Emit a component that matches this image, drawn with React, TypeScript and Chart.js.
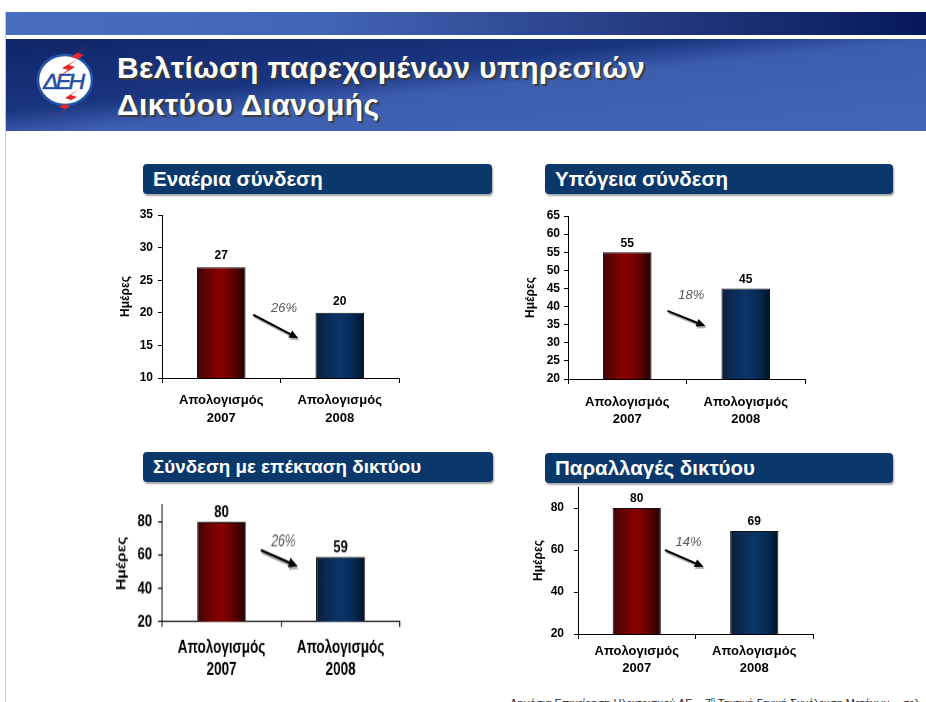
import React, { useEffect, useRef } from 'react';
import { Chart, registerables } from 'chart.js';

Chart.register(...registerables);

// ---------- data ----------
const categories = [['Απολογισμός', '2007'], ['Απολογισμός', '2008']];
const axisTitle = 'Ημέρες';

const overheadValues = [27, 20];
const undergroundValues = [55, 45];
const extensionValues = [80, 59];
const modificationValues = [80, 69];

const overheadTicks = [10, 15, 20, 25, 30, 35];
const undergroundTicks = [20, 25, 30, 35, 40, 45, 50, 55, 60, 65];
const extensionTicks = [20, 40, 60, 80];
const modificationTicks = [20, 40, 60, 80];

const overheadChange = '26%';
const undergroundChange = '18%';
const extensionChange = '26%';
const modificationChange = '14%';

const panelTitles = ['Εναέρια σύνδεση', 'Υπόγεια σύνδεση', 'Σύνδεση με επέκταση δικτύου', 'Παραλλαγές δικτύου'];

// ---------- styles ----------
const SANS = '"Liberation Sans", Arial, Helvetica, sans-serif';

const redStops: [number, string][] = [
  [0, '#3a0707'], [0.15, '#5c0303'], [0.45, '#880000'], [0.62, '#780000'], [0.85, '#480000'], [1, '#1c0000'],
];
const blueStops: [number, string][] = [
  [0, '#0c1c33'], [0.2, '#0a2a52'], [0.5, '#0a3567'], [0.75, '#072b56'], [1, '#011227'],
];

type Spec = {
  values: number[];
  ticks: number[];
  min: number;
  max: number;
  change: string;
  arrowFrom: [number, number];
  arrowTo: [number, number];
  labelAt: [number, number];
  box: { left: number; top: number; width: number; height: number };
  stretch: number;
  padding: { left: number; top: number; right: number; bottom: number };
  yWidth: number;
  xHeight: number;
  tickSize: number;
  tickPad: number;
  catSize: number;
  catLH: number;
  catPad: number;
  xTickLen: number;
  titleSize: number;
  titlePad: number;
  valueSize: number;
  valueGap: number;
  pctSize: number;
};

const specs: Spec[] = [
  {
    values: overheadValues, ticks: overheadTicks, min: 10, max: 35, change: overheadChange,
    arrowFrom: [0.27, 19.7], arrowTo: [0.65, 16.1], labelAt: [0.53, 20.7],
    box: { left: 100, top: 195, width: 310, height: 245 }, stretch: 1,
    padding: { left: 0, top: 20, right: 11, bottom: 0 },
    yWidth: 62, xHeight: 62,
    tickSize: 12, tickPad: 5, catSize: 13, catLH: 18, catPad: 8, xTickLen: 5,
    titleSize: 12, titlePad: 18, valueSize: 12, valueGap: 11, pctSize: 13,
  },
  {
    values: undergroundValues, ticks: undergroundTicks, min: 20, max: 65, change: undergroundChange,
    arrowFrom: [0.34, 38.8], arrowTo: [0.66, 34.6], labelAt: [0.54, 43.2],
    box: { left: 505, top: 196, width: 310, height: 244 }, stretch: 1,
    padding: { left: 0, top: 20, right: 10, bottom: 0 },
    yWidth: 63, xHeight: 61,
    tickSize: 12, tickPad: 4, catSize: 13, catLH: 17, catPad: 9.5, xTickLen: 5,
    titleSize: 12, titlePad: 18.8, valueSize: 12, valueGap: 9, pctSize: 13,
  },
  {
    values: extensionValues, ticks: extensionTicks, min: 20, max: 90, change: extensionChange,
    arrowFrom: [0.33, 63], arrowTo: [0.64, 53.3], labelAt: [0.52, 67.9],
    box: { left: 100, top: 478, width: 310, height: 163 }, stretch: 1.3,
    padding: { left: 0, top: 20.8, right: 10, bottom: 0 },
    yWidth: 62, xHeight: 53,
    tickSize: 13, tickPad: 6, catSize: 13.5, catLH: 17, catPad: 7.5, xTickLen: 4,
    titleSize: 12, titlePad: 14.8, valueSize: 13, valueGap: 7, pctSize: 12,
  },
  {
    values: modificationValues, ticks: modificationTicks, min: 20, max: 90, change: modificationChange,
    arrowFrom: [0.24, 60], arrowTo: [0.57, 52], labelAt: [0.44, 63.8],
    box: { left: 505, top: 467, width: 320, height: 223 }, stretch: 1,
    padding: { left: 0, top: 20, right: 12, bottom: 0 },
    yWidth: 73, xHeight: 56,
    tickSize: 12, tickPad: 10, catSize: 13, catLH: 17, catPad: 3.5, xTickLen: 5,
    titleSize: 12, titlePad: 26.8, valueSize: 12, valueGap: 9, pctSize: 13,
  },
];

function BarPanel({ spec }: { spec: Spec }) {
  const ref = useRef<HTMLCanvasElement>(null);

  useEffect(() => {
    if (!ref.current) return;
    const barPct = 0.41;

    const gradFor = (c: any) => {
      const chart = c.chart;
      const i = c.dataIndex;
      const stops = i === 1 ? blueStops : redStops;
      const xs = chart.scales && chart.scales.x;
      if (typeof i !== 'number' || !xs || !chart.chartArea) return stops[2][1];
      const center = xs.getPixelForValue(i);
      const w = (xs.width / categories.length) * barPct;
      const g = chart.ctx.createLinearGradient(center - w / 2, 0, center + w / 2, 0);
      stops.forEach(([o, col]) => g.addColorStop(o, col));
      return g;
    };

    const overlay = {
      id: 'overlay',
      afterDatasetsDraw(chart: any) {
        const ctx = chart.ctx;
        const xs = chart.scales.x;
        const ys = chart.scales.y;
        const meta = chart.getDatasetMeta(0);
        ctx.save();
        ctx.font = `bold ${spec.valueSize}px ${SANS}`;
        ctx.fillStyle = '#000';
        ctx.textAlign = 'center';
        ctx.textBaseline = 'middle';
        meta.data.forEach((el: any, i: number) => {
          ctx.fillText(String(spec.values[i]), el.x, el.y - spec.valueGap);
        });
        const x1 = xs.getPixelForValue(spec.arrowFrom[0]);
        const y1 = ys.getPixelForValue(spec.arrowFrom[1]);
        const x2 = xs.getPixelForValue(spec.arrowTo[0]);
        const y2 = ys.getPixelForValue(spec.arrowTo[1]);
        const ang = Math.atan2(y2 - y1, x2 - x1);
        const head = 9;
        const drawArrow = (dx: number, dy: number, color: string) => {
          ctx.strokeStyle = color;
          ctx.fillStyle = color;
          ctx.lineWidth = 2;
          ctx.beginPath();
          ctx.moveTo(x1 + dx, y1 + dy);
          ctx.lineTo(x2 + dx - Math.cos(ang) * head * 0.7, y2 + dy - Math.sin(ang) * head * 0.7);
          ctx.stroke();
          ctx.beginPath();
          ctx.moveTo(x2 + dx, y2 + dy);
          ctx.lineTo(x2 + dx - Math.cos(ang) * head + Math.sin(ang) * 4, y2 + dy - Math.sin(ang) * head - Math.cos(ang) * 4);
          ctx.lineTo(x2 + dx - Math.cos(ang) * head - Math.sin(ang) * 4, y2 + dy - Math.sin(ang) * head + Math.cos(ang) * 4);
          ctx.closePath();
          ctx.fill();
        };
        drawArrow(1, 2, 'rgba(120,120,120,0.6)');
        drawArrow(0, 0, '#000');
        ctx.font = `italic ${spec.pctSize}px ${SANS}`;
        ctx.fillStyle = '#5a5a5a';
        ctx.fillText(spec.change, xs.getPixelForValue(spec.labelAt[0]), ys.getPixelForValue(spec.labelAt[1]));
        ctx.restore();
      },
    };

    const chart = new Chart(ref.current, {
      type: 'bar',
      data: {
        labels: categories,
        datasets: [
          {
            data: spec.values,
            backgroundColor: gradFor as any,
            borderColor: '#111',
            borderWidth: 1,
            barPercentage: barPct,
            categoryPercentage: 1,
          },
        ],
      },
      options: {
        responsive: false,
        animation: false,
        devicePixelRatio: spec.stretch,
        layout: { padding: spec.padding },
        plugins: {
          legend: { display: false },
          tooltip: { enabled: false },
        },
        scales: {
          x: {
            grid: { drawOnChartArea: false, tickLength: spec.xTickLen, color: '#000', offset: true },
            border: { color: '#000', width: 1 },
            ticks: {
              color: '#000',
              font: { family: SANS, size: spec.catSize, weight: 'bold', lineHeight: spec.catLH / spec.catSize },
              padding: spec.catPad,
              maxRotation: 0,
              autoSkip: false,
            },
            afterFit: (s: any) => {
              s.height = spec.xHeight;
            },
          },
          y: {
            min: spec.min,
            max: spec.max,
            afterBuildTicks: (s: any) => {
              s.ticks = spec.ticks.map((v) => ({ value: v }));
            },
            grid: { drawOnChartArea: false, tickLength: 4, color: '#000' },
            border: { color: '#000', width: 1 },
            ticks: {
              color: '#000',
              font: { family: SANS, size: spec.tickSize, weight: 'bold' },
              padding: spec.tickPad,
            },
            title: {
              display: true,
              text: axisTitle,
              color: '#000',
              font: { family: SANS, size: spec.titleSize, weight: 'bold' },
              padding: { top: spec.titlePad, bottom: 0 },
            },
            afterFit: (s: any) => {
              s.width = spec.yWidth;
            },
          },
        },
      } as any,
      plugins: [overlay],
    });
    return () => chart.destroy();
  }, [spec]);

  return (
    <canvas
      ref={ref}
      width={spec.box.width}
      height={spec.box.height}
      style={{
        position: 'absolute',
        left: spec.box.left,
        top: spec.box.top,
        width: spec.box.width,
        height: spec.box.height * spec.stretch,
      }}
    />
  );
}

function Header({ left, top, width, text, size }: { left: number; top: number; width: number; text: string; size: number }) {
  return (
    <div
      style={{
        position: 'absolute',
        left,
        top,
        width,
        height: 30,
        background: '#0b386b',
        borderRadius: 4,
        boxShadow: '1px 2px 2px rgba(0,0,0,0.35)',
        color: '#fff',
        fontFamily: SANS,
        fontWeight: 'bold',
        fontSize: size,
        lineHeight: '30px',
        paddingLeft: 10,
        boxSizing: 'border-box',
        whiteSpace: 'nowrap',
      }}
    >
      {text}
    </div>
  );
}

function Logo() {
  return (
    <svg width={120} height={130} style={{ position: 'absolute', left: 0, top: 0 }}>
      <ellipse cx={65} cy={80} rx={27} ry={25} fill="#fff" stroke="#2457aa" strokeWidth={2.5} />
      <text
        x={64}
        y={89}
        textAnchor="middle"
        fontFamily={SANS}
        fontStyle="italic"
        fontSize={23}
        fill="#1f4ea3"
        stroke="#1f4ea3"
        strokeWidth={0.6}
        textLength={42}
      >
        ΔΕΗ
      </text>
      <polygon points="91,44 71,57 78,59 62,68 68,70 55,79 75,67 69,65 84,55 78,53" fill="#e8262b" />
      <polygon points="79,89 65,98 71,100 59,107 65,109 51,119 70,106 64,104 77,97 71,95" fill="#e8262b" />
    </svg>
  );
}

export default function App() {
  return (
    <div
      style={{
        position: 'fixed',
        left: 0,
        top: 0,
        width: 926,
        height: 702,
        background: '#fff',
        overflow: 'hidden',
        fontFamily: SANS,
      }}
    >
      <div style={{ position: 'absolute', left: 5, top: 12, width: 1, height: 690, background: '#c8c8c8' }} />
      <div
        style={{
          position: 'absolute',
          left: 6,
          top: 12,
          right: 0,
          height: 23,
          background: 'linear-gradient(90deg, #4a6ebf 0%, #4264b4 35%, #22387e 72%, #06185a 100%)',
        }}
      />
      <div
        style={{
          position: 'absolute',
          left: 6,
          top: 39,
          right: 0,
          height: 92,
          background: 'linear-gradient(174deg, #0f2568 0%, #1a3580 38%, #3d5dae 52%, #4566b6 100%)',
        }}
      />
      <Logo />
      <div
        style={{
          position: 'absolute',
          left: 117,
          top: 49,
          color: '#fff',
          fontFamily: SANS,
          fontWeight: 'bold',
          fontSize: 30,
          letterSpacing: 0.4,
          lineHeight: '37px',
          textShadow: '2px 2px 1px #3c3c3c',
          whiteSpace: 'nowrap',
        }}
      >
        <div>Βελτίωση παρεχομένων υπηρεσιών</div>
        <div>Δικτύου Διανομής</div>
      </div>

      <Header left={143} top={164} width={349} text={panelTitles[0]} size={20.5} />
      <Header left={545} top={164} width={348} text={panelTitles[1]} size={20.5} />
      <Header left={143} top={452} width={350} text={panelTitles[2]} size={18.8} />
      <Header left={545} top={453} width={348} text={panelTitles[3]} size={20.5} />

      {specs.map((s, i) => (
        <BarPanel key={i} spec={s} />
      ))}

      <div
        style={{
          position: 'absolute',
          left: 510,
          top: 693,
          fontFamily: SANS,
          fontSize: 11,
          lineHeight: '13px',
          color: '#222',
          whiteSpace: 'nowrap',
        }}
      >
        Δημόσια Επιχείρηση Ηλεκτρισμού ΑΕ – 7<sup style={{ fontSize: 7 }}>η</sup> Τακτική Γενική Συνέλευση Μετόχων&nbsp; - σελ. 16
      </div>
    </div>
  );
}
